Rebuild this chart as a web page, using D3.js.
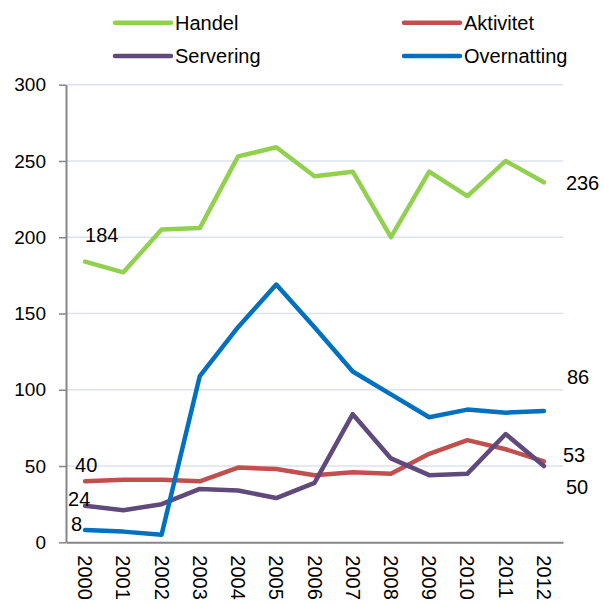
<!DOCTYPE html>
<html><head><meta charset="utf-8">
<script src="https://cdn.jsdelivr.net/npm/d3@7"></script>
<style>body{margin:0;background:#fff}svg{display:block;font-family:Arial,"Liberation Sans",sans-serif}</style>
</head><body><svg id="c" width="603" height="604"></svg>
<script>
const years = ["2000","2001","2002","2003","2004","2005","2006","2007","2008","2009","2010","2011","2012"];
const handel      = [184,177,205,206,253,259,240,243,200,243,227,250,236];
const aktivitet   = [40,41,41,40,49,48,44,46,45,58,67,61,53];
const servering   = [24,21,25,35,34,29,39,84,55,44,45,71,50];
const overnatting = [8,7,5,109,141,169,141,112,97,82,87,85,86];
const yTicks = [0,50,100,150,200,250,300];

const series = [
  {name:"Handel", values:handel, color:"#92D050"},
  {name:"Aktivitet", values:aktivitet, color:"#C0504D"},
  {name:"Servering", values:servering, color:"#604A7B"},
  {name:"Overnatting", values:overnatting, color:"#0070C0"}
];

const svg = d3.select("#c");
const L=66, R=563, T=84.7, B=542.3;
const x = d3.scaleBand().domain(years).range([L,R]);
const y = d3.scaleLinear().domain([0,300]).range([B,T]);
const cx = d => x(d)+x.bandwidth()/2;

// gridlines
svg.append("g").selectAll("line").data(yTicks.filter(t=>t>0)).join("line")
  .attr("x1",L).attr("x2",R).attr("y1",d=>y(d)).attr("y2",d=>y(d))
  .attr("stroke","#DCE3EE").attr("stroke-width",1.5);

// y axis
const ya = svg.append("g").attr("transform",`translate(${L},0)`)
  .call(d3.axisLeft(y).tickValues(yTicks).tickSize(7).tickPadding(13).tickSizeOuter(0));
ya.select(".domain").attr("stroke","#868686").attr("stroke-width",2);
ya.selectAll(".tick line").attr("stroke","#868686").attr("stroke-width",1.5);
ya.selectAll(".tick text").attr("font-size",19).attr("fill","#000").attr("font-family","Arial, 'Liberation Sans', sans-serif");

// x axis
const xa = svg.append("g").attr("transform",`translate(0,${B})`)
  .call(d3.axisBottom(x).tickSize(0).tickPadding(0));
xa.select(".domain").attr("stroke","#868686").attr("stroke-width",2);
xa.selectAll(".tick text").attr("font-size",20).attr("fill","#000")
  .attr("font-family","Arial, 'Liberation Sans', sans-serif")
  .attr("transform","translate(0,13) rotate(90)")
  .attr("text-anchor","start").attr("dominant-baseline","central").attr("dy",null).attr("y",0);

// lines
const line = d3.line().x((d,i)=>cx(years[i])).y(d=>y(d));
svg.append("g").selectAll("path").data(series).join("path")
  .attr("d",d=>line(d.values)).attr("fill","none")
  .attr("stroke",d=>d.color).attr("stroke-width",4.5)
  .attr("stroke-linejoin","round").attr("stroke-linecap","round");

// data labels
const labels = [
  {v:handel[0], i:0, dx:0, dy:-20, anchor:"start", base:"auto"},
  {v:aktivitet[0], i:0, dx:-10, dy:-16, anchor:"start", base:"central"},
  {v:servering[0], i:0, dx:-17, dy:-7, anchor:"start", base:"central"},
  {v:overnatting[0], i:0, dx:-14, dy:-6, anchor:"start", base:"central"},
  {v:handel[12], i:12, dx:22, dy:1, anchor:"start", base:"central"},
  {v:overnatting[12], i:12, dx:23, dy:-34, anchor:"start", base:"central"},
  {v:aktivitet[12], i:12, dx:19, dy:-6, anchor:"start", base:"central"},
  {v:servering[12], i:12, dx:22, dy:21, anchor:"start", base:"central"}
];
svg.append("g").selectAll("text").data(labels).join("text")
  .attr("x",d=>cx(years[d.i])+d.dx).attr("y",d=>y(d.v)+d.dy)
  .attr("text-anchor",d=>d.anchor).attr("dominant-baseline",d=>d.base)
  .attr("font-size",20).attr("fill","#000").text(d=>d.v);

// legend
const legPos = [[115,22.7],[404,22.7],[115,56],[404,56]];
const lg = svg.append("g").selectAll("g").data(series).join("g")
  .attr("transform",(d,i)=>`translate(${legPos[i][0]},${legPos[i][1]})`);
lg.append("line").attr("x1",0).attr("x2",56).attr("y1",0).attr("y2",0)
  .attr("stroke",d=>d.color).attr("stroke-width",4.5).attr("stroke-linecap","round");
lg.append("text").attr("x",60).attr("y",0).attr("dominant-baseline","central")
  .attr("font-size",20).attr("fill","#000").text(d=>d.name);
</script></body></html>
